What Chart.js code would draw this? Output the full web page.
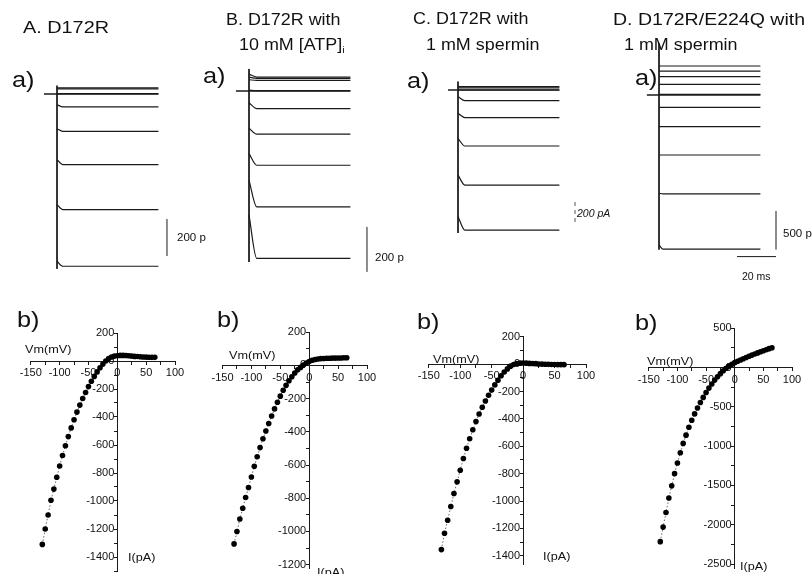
<!DOCTYPE html>
<html>
<head>
<meta charset="utf-8">
<script src="https://cdn.jsdelivr.net/npm/chart.js@4.4.1/dist/chart.umd.min.js"></script>
<style>
  body { margin: 0; background: #fff; }
  #fig { position: relative; width: 812px; height: 574px; overflow: hidden; background: #fff;
         font-family: Arial, 'Liberation Sans', sans-serif; color: #111; }
  #fig canvas { position: absolute; }
  .t { position: absolute; white-space: nowrap; line-height: 1; transform-origin: 0 50%; }
  .t sub { font-size: 60%; vertical-align: -3px; line-height: 0; }
</style>
</head>
<body>
<div id="fig"></div>
<script>
'use strict';

Chart.defaults.font.family = "Arial, 'Liberation Sans', sans-serif";
Chart.defaults.color = '#111';

/* ── I-V data: membrane potential (mV) and current (pA) ── */
const VM = [-130, -125, -120, -115, -110, -105, -100, -95, -90, -85,
            -80, -75, -70, -65, -60, -55, -50, -45, -40, -35,
            -30, -25, -20, -15, -10, -5, 0, 5, 10, 15,
            20, 25, 30, 35, 40, 45, 50, 55, 60, 65];

const I_A = [-1310, -1200, -1100, -995, -915, -830, -750, -675, -605, -540,
             -478, -420, -365, -315, -268, -225, -183, -145, -110, -78,
             -48, -22, 0, 18, 29, 35, 38, 40, 40, 39,
             37, 35, 33, 32, 30, 29, 28, 27, 26, 26];

const I_B = [-1075, -1000, -925, -860, -795, -735, -672, -608, -550, -495,
             -442, -395, -350, -305, -262, -222, -185, -150, -120, -92,
             -68, -46, -26, -12, 2, 14, 24, 31, 36, 39,
             41, 42, 43, 43, 44, 44, 45, 45, 46, 46];

const I_C = [-1355, -1235, -1140, -1040, -945, -860, -775, -690, -615, -545,
             -480, -420, -365, -315, -270, -228, -190, -152, -118, -85,
             -58, -35, -15, -3, 4, 7, 8, 7, 5, 4,
             3, 1, 0, -1, -2, -3, -3, -4, -4, -4];

const I_D = [-2215, -2030, -1845, -1660, -1505, -1350, -1215, -1085, -965, -860,
             -760, -670, -590, -515, -445, -380, -318, -262, -210, -160,
             -118, -78, -42, -10, 18, 42, 62, 80, 96, 112,
             128, 144, 158, 172, 186, 200, 214, 226, 240, 252];

/* ── current traces (pA, relative to holding current) ── */
const T_END = 52;            // pulse length, ms
const STEADY_A = [33, 28, 2, -70, -202, -382, -625, -931];
const INIT_A   = [33, 28, 2, -58, -188, -355, -598, -904];
const STEADY_B = [62, 56, 47, 2, -78, -192, -330, -515, -744];
const INIT_B   = [75, 62, 50, 4, -52, -165, -278, -397, -552];
const STEADY_C = [30, 20, 0, -97, -251, -509, -864, -1273];
const INIT_C   = [30, 20, 0, -60, -212, -440, -773, -1150];
const STEADY_D = [375, 310, 237, 138, 9, -159, -409, -776, -1280, -1995];
const INIT_D   = [375, 310, 237, 138, 9, -159, -409, -776, -1270, -1940];
const TRANS_A = [45, -945];
const TRANS_B = [98, -760];
const TRANS_C = [76, -1300];
const TRANS_D = [668, -2000];
const BAR_A = [-876, -676];
const BAR_B = [-804, -604];
const BAR_C = [-1200, -1000];
const BAR_D = [-2000, -1500];
const BAR_D_MS = [40, 60];

/* ── layout (page pixels) ── */
const PANELS = [
  { steady: STEADY_A, init: INIT_A, trans: TRANS_A, bar: BAR_A, barT: 56.4, hold: -6.7, decay: 3,
    tr: { x0: 57, y0: 94, ppm: 1.95, ppa: 0.185 },
    iv: { data: I_A, xl: 30.8, xr: 175, yt: 333, yb: 571, ymax: 200, ymin: -1500, step: 100, lab: 200 } },
  { steady: STEADY_B, init: INIT_B, trans: TRANS_B, bar: BAR_B, barT: 60.5, hold: -6.7, decay: 4,
    tr: { x0: 249, y0: 91, ppm: 1.95, ppa: 0.225 },
    iv: { data: I_B, xl: 222.5, xr: 366.7, yt: 332.2, yb: 568.6, ymax: 200, ymin: -1220, step: 100, lab: 200 } },
  { steady: STEADY_C, init: INIT_C, trans: TRANS_C, bar: BAR_C, barT: 60, hold: -5.1, decay: 3.5, dashBar: true,
    tr: { x0: 458, y0: 90, ppm: 1.95, ppa: 0.11 },
    iv: { data: I_C, xl: 428.8, xr: 585.8, yt: 336.7, yb: 563.3, ymax: 200, ymin: -1460, step: 100, lab: 200 } },
  { steady: STEADY_D, init: INIT_D, trans: TRANS_D, bar: BAR_D, barT: 60, hold: -6.2, decay: 2, msBar: true,
    tr: { x0: 659, y0: 95, ppm: 1.95, ppa: 0.0773 },
    iv: { data: I_D, xl: 648.8, xr: 791.3, yt: 328.2, yb: 568, ymax: 500, ymin: -2550, step: 250, lab: 500 } },
];

const LABELS = [
  // [text, left, centerY, size, horizontal stretch, extra style]
  ['A. D172R', 23, 28, 16, 1.24], ['B. D172R with', 226, 20, 16, 1.12], ['10 mM [ATP]<sub>i</sub>', 239, 45, 16, 1.12],
  ['C. D172R with', 413, 19, 16, 1.12], ['1 mM spermin', 426, 45, 16, 1.12],
  ['D. D172R/E224Q with', 613, 20, 16, 1.22], ['1 mM spermin', 624, 45, 16, 1.12],
  ['a)', 12, 80, 22, 1.15], ['a)', 203, 76, 22, 1.15], ['a)', 407, 81, 22, 1.15], ['a)', 635, 78, 22, 1.15],
  ['b)', 17, 320, 22, 1.15], ['b)', 217, 320, 22, 1.15], ['b)', 417, 322, 22, 1.15], ['b)', 635, 323, 22, 1.15],
  ['Vm(mV)', 25, 350, 11.5, 1.1], ['Vm(mV)', 229, 356, 11.5, 1.1], ['Vm(mV)', 433, 360, 11.5, 1.1], ['Vm(mV)', 647, 362, 11.5, 1.1],
  ['I(pA)', 128, 558, 11.5, 1.1], ['I(pA)', 317, 573, 11.5, 1.1], ['I(pA)', 543, 557, 11.5, 1.1], ['I(pA)', 740, 567, 11.5, 1.1],
  ['200 p', 177, 237, 11, 1.05], ['200 p', 375, 257, 11, 1.05], ['200 pA', 577, 214, 10, 1.05, 'font-style:italic'],
  ['500 p', 783, 233, 11, 1.05], ['20 ms', 742, 277, 10, 1.05],
];

const fig = document.getElementById('fig');
const INK = '#1a1a1a';

function addCanvas(left, top, w, h) {
  const c = document.createElement('canvas');
  c.width = w; c.height = h;
  c.style.left = left + 'px'; c.style.top = top + 'px';
  c.style.width = w + 'px'; c.style.height = h + 'px';
  fig.appendChild(c);
  return c;
}

const BASE = {
  responsive: false, animation: false, devicePixelRatio: 1,
  plugins: { legend: { display: false }, tooltip: { enabled: false } },
  events: [],
};

/* ── a) current traces ── */
function drawTraces(p) {
  const { x0, y0, ppm, ppa } = p.tr;
  const left = x0 - 25, top = 30, w = 160, h = 250;
  const canvas = addCanvas(left, top, w, h);
  const line = (pts, extra) => Object.assign({
    data: pts, borderColor: INK, borderWidth: 1.2, pointRadius: 0, fill: false,
  }, extra || {});

  const datasets = [];
  datasets.push(line([{ x: p.hold, y: 0 }, { x: T_END, y: 0 }], { borderWidth: 1.4 }));
  p.steady.forEach((s, i) => {
    datasets.push(line([{ x: 0, y: p.init[i] }, { x: p.decay, y: s }, { x: T_END, y: s }],
      { cubicInterpolationMode: 'monotone' }));
  });
  datasets.push(line([{ x: 0, y: p.trans[0] }, { x: 0, y: p.trans[1] }], { borderWidth: 1 }));
  datasets.push(line([{ x: p.barT, y: p.bar[0] }, { x: p.barT, y: p.bar[1] }],
    p.dashBar ? { borderWidth: 1, borderColor: '#555', borderDash: [4, 4] } : { borderWidth: 1 }));
  if (p.msBar) {
    const yBar = p.bar[0] - 7 / ppa;
    datasets.push(line([{ x: BAR_D_MS[0], y: yBar }, { x: BAR_D_MS[1], y: yBar }], { borderWidth: 1 }));
  }

  new Chart(canvas, {
    type: 'line',
    data: { datasets },
    options: Object.assign({}, BASE, {
      layout: { padding: 0 },
      scales: {
        x: { type: 'linear', display: false, min: (left - x0) / ppm, max: (left + w - x0) / ppm },
        y: { type: 'linear', display: false, min: (y0 - top - h) / ppa, max: (y0 - top) / ppa },
      },
    }),
  });
}

/* ── b) I-V relation ── */
function drawIV(p) {
  const iv = p.iv, pad = 22;
  const canvas = addCanvas(Math.round(iv.xl - pad), Math.round(iv.yt - pad),
    Math.round(iv.xr - iv.xl + 2 * pad), Math.round(iv.yb - iv.yt + 2 * pad));
  const axis = {
    grid: { drawOnChartArea: false, drawTicks: true, tickLength: 3, color: INK, tickWidth: 1 },
    border: { display: true, color: INK, width: 1 },
  };
  new Chart(canvas, {
    type: 'scatter',
    data: {
      datasets: [{
        data: VM.map((v, i) => ({ x: v, y: iv.data[i] })),
        showLine: true, borderColor: '#444', borderWidth: 0.8, borderDash: [1.5, 2],
        pointRadius: 2.8, pointBackgroundColor: '#000', pointBorderWidth: 0,
      }],
    },
    options: Object.assign({}, BASE, {
      layout: { padding: { left: iv.xl - Math.round(iv.xl - pad), right: pad, top: iv.yt - Math.round(iv.yt - pad), bottom: pad } },
      scales: {
        x: Object.assign({
          type: 'linear', min: -150, max: 100, position: { y: 0 },
          ticks: { stepSize: 25, autoSkip: false, maxRotation: 0, padding: 2.5, font: { size: 11 },
                   callback: v => (v % 50 === 0 ? v : '') },
        }, axis),
        y: Object.assign({
          type: 'linear', min: iv.ymin, max: iv.ymax, position: { x: 0 },
          afterBuildTicks: s => {
            const t = [];
            for (let v = iv.ymax; v >= iv.ymin; v -= iv.step) t.push({ value: v });
            s.ticks = t.reverse();
          },
          ticks: { autoSkip: false, padding: 1, font: { size: 11 },
                   callback: v => (v % iv.lab === 0 ? v + ' ' : '') },
        }, axis),
      },
    }),
  });
}

PANELS.forEach(p => { drawTraces(p); drawIV(p); });

LABELS.forEach(([txt, left, cy, size, sx, extra]) => {
  const d = document.createElement('div');
  d.className = 't';
  d.innerHTML = txt;
  d.style.cssText += `left:${left}px;top:${(cy - 0.49 * size).toFixed(1)}px;font-size:${size}px;` +
    `transform:scaleX(${sx});${extra || ''}`;
  fig.appendChild(d);
});
</script>
</body>
</html>
